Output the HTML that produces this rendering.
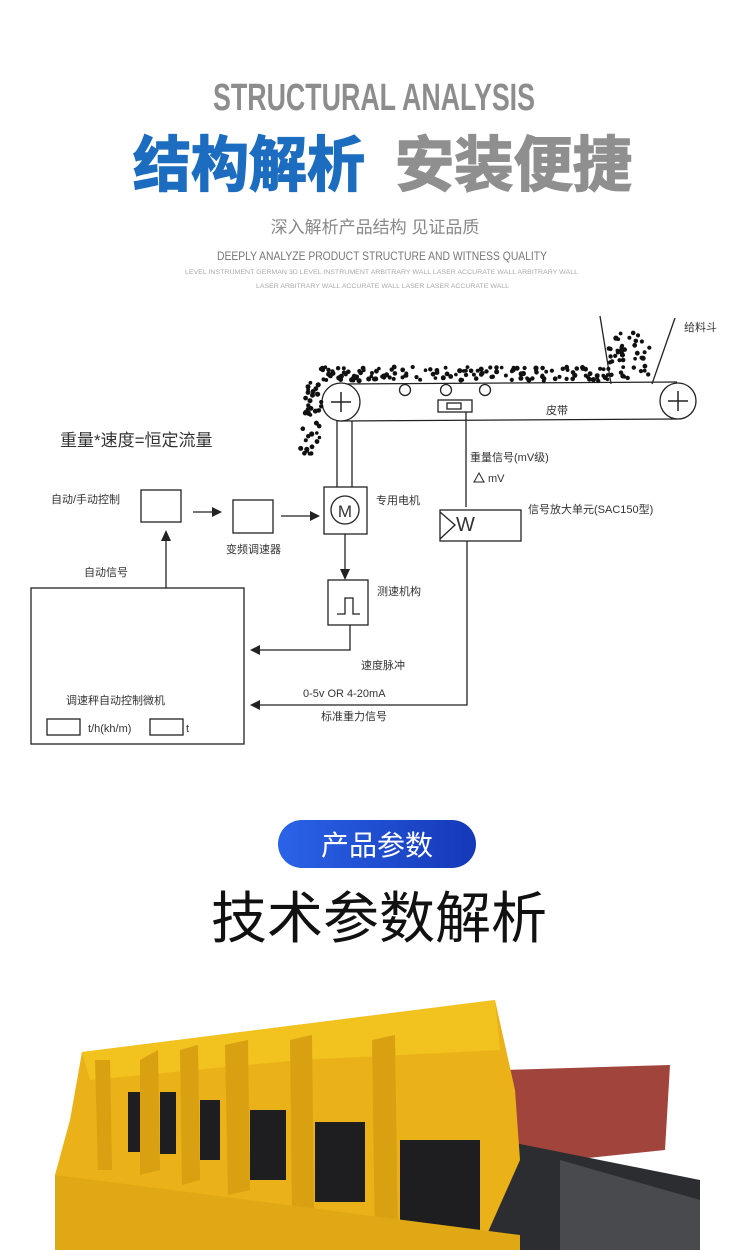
<!DOCTYPE html>
<html><head><meta charset="utf-8"><style>
html,body{margin:0;padding:0;background:#fff;width:750px;height:1250px;overflow:hidden}
svg{display:block}
text{font-family:"Liberation Sans","Noto Sans CJK SC",sans-serif}
</style></head><body>
<svg id="s" width="750" height="1250" viewBox="0 0 750 1250" xmlns="http://www.w3.org/2000/svg">
<defs>
<linearGradient id="pill" x1="0" x2="1" y1="0" y2="0"><stop offset="0" stop-color="#2b63e8"/><stop offset="1" stop-color="#1538b8"/></linearGradient>
</defs>
<text x="213" y="110" font-size="38" font-weight="bold" fill="#8d8d8d" textLength="322" lengthAdjust="spacingAndGlyphs">STRUCTURAL ANALYSIS</text>
<text x="133" y="186" font-size="60" font-weight="bold" fill="#1c6cc0" stroke="#1c6cc0" stroke-width="1.5" textLength="232" lengthAdjust="spacingAndGlyphs">结构解析</text>
<text x="395" y="186" font-size="60" font-weight="bold" fill="#8f8f8f" stroke="#8f8f8f" stroke-width="1.5" textLength="237" lengthAdjust="spacingAndGlyphs">安装便捷</text>
<text x="375" y="233" font-size="17" fill="#888" text-anchor="middle">深入解析产品结构 见证品质</text>
<text x="217" y="260" font-size="12" fill="#777" textLength="330" lengthAdjust="spacingAndGlyphs">DEEPLY ANALYZE PRODUCT STRUCTURE AND WITNESS QUALITY</text>
<text x="185" y="274" font-size="6" fill="#aaa" textLength="393" lengthAdjust="spacingAndGlyphs">LEVEL INSTRUMENT GERMAN 3D LEVEL INSTRUMENT ARBITRARY WALL LASER ACCURATE WALL ARBITRARY WALL</text>
<text x="256" y="288" font-size="6" fill="#aaa" textLength="253" lengthAdjust="spacingAndGlyphs">LASER ARBITRARY WALL ACCURATE WALL LASER LASER ACCURATE WALL</text>

<g stroke="#222" stroke-width="1.3" fill="none">
<line x1="340" y1="384" x2="677" y2="382"/>
<line x1="340" y1="421" x2="677" y2="419"/>
<circle cx="341" cy="402" r="19" fill="#fff"/>
<circle cx="678" cy="401" r="18" fill="#fff"/>
<circle cx="405" cy="390" r="5.5"/><circle cx="446" cy="390" r="5.5"/><circle cx="485" cy="390" r="5.5"/>
<rect x="438" y="400" width="34" height="12"/><rect x="447" y="403" width="14" height="6"/>
<line x1="466" y1="412" x2="466" y2="507"/>
<line x1="600" y1="316" x2="611" y2="384"/><line x1="675" y1="318" x2="652" y2="384"/>
<line x1="337" y1="421" x2="337" y2="487"/><line x1="352" y1="421" x2="352" y2="487"/>
<rect x="324" y="487" width="43" height="47"/><circle cx="345" cy="510" r="14"/>
<line x1="345" y1="534" x2="345" y2="572"/>
<rect x="328" y="580" width="40" height="45"/>
<polyline points="337,614 345,614 345,598 353,598 353,614 360,614"/>
<polyline points="350,625 350,650 258,650"/>
<rect x="440" y="510" width="81" height="31"/>
<polyline points="440,512 455,525 440,539"/>
<polyline points="467,541 467,705 258,705"/>
<rect x="141" y="490" width="40" height="32"/>
<rect x="233" y="500" width="40" height="33"/>
<line x1="193" y1="512" x2="213" y2="512"/>
<line x1="281" y1="516" x2="311" y2="516"/>
<rect x="31" y="588" width="213" height="156"/>
<line x1="166" y1="588" x2="166" y2="540"/>
<rect x="47" y="719" width="33" height="16"/><rect x="150" y="719" width="33" height="16"/>
</g>
<g stroke="#222" stroke-width="1.5">
<line x1="331" y1="402" x2="351" y2="402"/><line x1="341" y1="392" x2="341" y2="412"/>
<line x1="668" y1="401" x2="688" y2="401"/><line x1="678" y1="391" x2="678" y2="411"/>
</g>
<g fill="#222">
<polygon points="222,512 212,507 212,517"/>
<polygon points="320,516 310,511 310,521"/>
<polygon points="345,580 340,569 350,569"/>
<polygon points="250,650 260,645 260,655"/>
<polygon points="250,705 260,700 260,710"/>
<polygon points="166,530 161,541 171,541"/>
<polygon points="474,482 479,473 484,482" fill="none" stroke="#222"/>
</g>
<g id="dots" fill="#111"></g>
<g fill="#333" font-size="11">
<text x="684" y="331">给料斗</text>
<text x="546" y="414">皮带</text>
<text x="60" y="446" font-size="17">重量*速度=恒定流量</text>
<text x="470" y="461">重量信号(mV级)</text>
<text x="488" y="482">mV</text>
<text x="376" y="504">专用电机</text>
<text x="528" y="513">信号放大单元(SAC150型)</text>
<text x="51" y="503">自动/手动控制</text>
<text x="226" y="553">变频调速器</text>
<text x="84" y="576">自动信号</text>
<text x="377" y="595">测速机构</text>
<text x="361" y="669">速度脉冲</text>
<text x="303" y="697">0-5v OR 4-20mA</text>
<text x="321" y="720">标准重力信号</text>
<text x="66" y="704">调速秤自动控制微机</text>
<text x="88" y="732">t/h(kh/m)</text>
<text x="186" y="732">t</text>
<text x="456" y="531" font-size="20">W</text>
<text x="345" y="517" font-size="17" text-anchor="middle">M</text>
</g>

<rect x="278" y="820" width="198" height="48" rx="24" fill="url(#pill)"/>
<text x="377" y="855" font-size="28" fill="#fff" text-anchor="middle">产品参数</text>
<text x="379" y="938" font-size="56" fill="#111" text-anchor="middle">技术参数解析</text>

<polygon points="505,1070 670,1065 665,1150 520,1165" fill="#a0443c"/>
<polygon points="500,1140 700,1180 700,1250 400,1250 410,1150" fill="#2c2d30"/>
<polygon points="560,1160 700,1200 700,1250 560,1250" fill="#494a4d"/>
<polygon points="82,1052 495,1000 515,1090 520,1160 480,1250 60,1250 55,1175 70,1120" fill="#eab218"/>
<polygon points="82,1052 495,1000 500,1050 300,1060 90,1080" fill="#f2c21e"/>
<g fill="#1e1e20">
<rect x="128" y="1092" width="14" height="60"/>
<rect x="160" y="1092" width="16" height="62"/>
<rect x="200" y="1100" width="20" height="60"/>
<rect x="250" y="1110" width="36" height="70"/>
<rect x="315" y="1122" width="50" height="80"/>
<rect x="400" y="1140" width="80" height="100"/>
<rect x="58" y="1195" width="20" height="15"/>
</g>
<g fill="#d9a011">
<polygon points="95,1060 110,1060 112,1170 98,1170"/>
<polygon points="140,1060 158,1050 160,1170 140,1175"/>
<polygon points="180,1050 198,1045 200,1180 182,1185"/>
<polygon points="225,1045 248,1040 250,1190 228,1195"/>
<polygon points="290,1040 312,1035 314,1210 292,1215"/>
<polygon points="372,1040 395,1035 398,1240 375,1245"/>
</g>
<polygon points="55,1175 520,1235 520,1250 55,1250" fill="#e0a814"/>
</svg>
<script>
(function(){var g=document.getElementById('dots'),s=7,r=function(){s=(s*9301+49281)%233280;return s/233280;},h='';
function d(x,y){h+='<circle cx="'+x.toFixed(1)+'" cy="'+y.toFixed(1)+'" r="'+(1.8+r()*0.8).toFixed(1)+'"/>';}
for(var i=0;i<140;i++){d(320+r()*290,367+r()*14);}
for(var i=0;i<45;i++){d(608+r()*42,330+r()*48);}
for(var i=0;i<40;i++){var t=r();d(306+r()*18-t*6,380+t*75);}
g.innerHTML=h;})();
</script>
</body></html>
